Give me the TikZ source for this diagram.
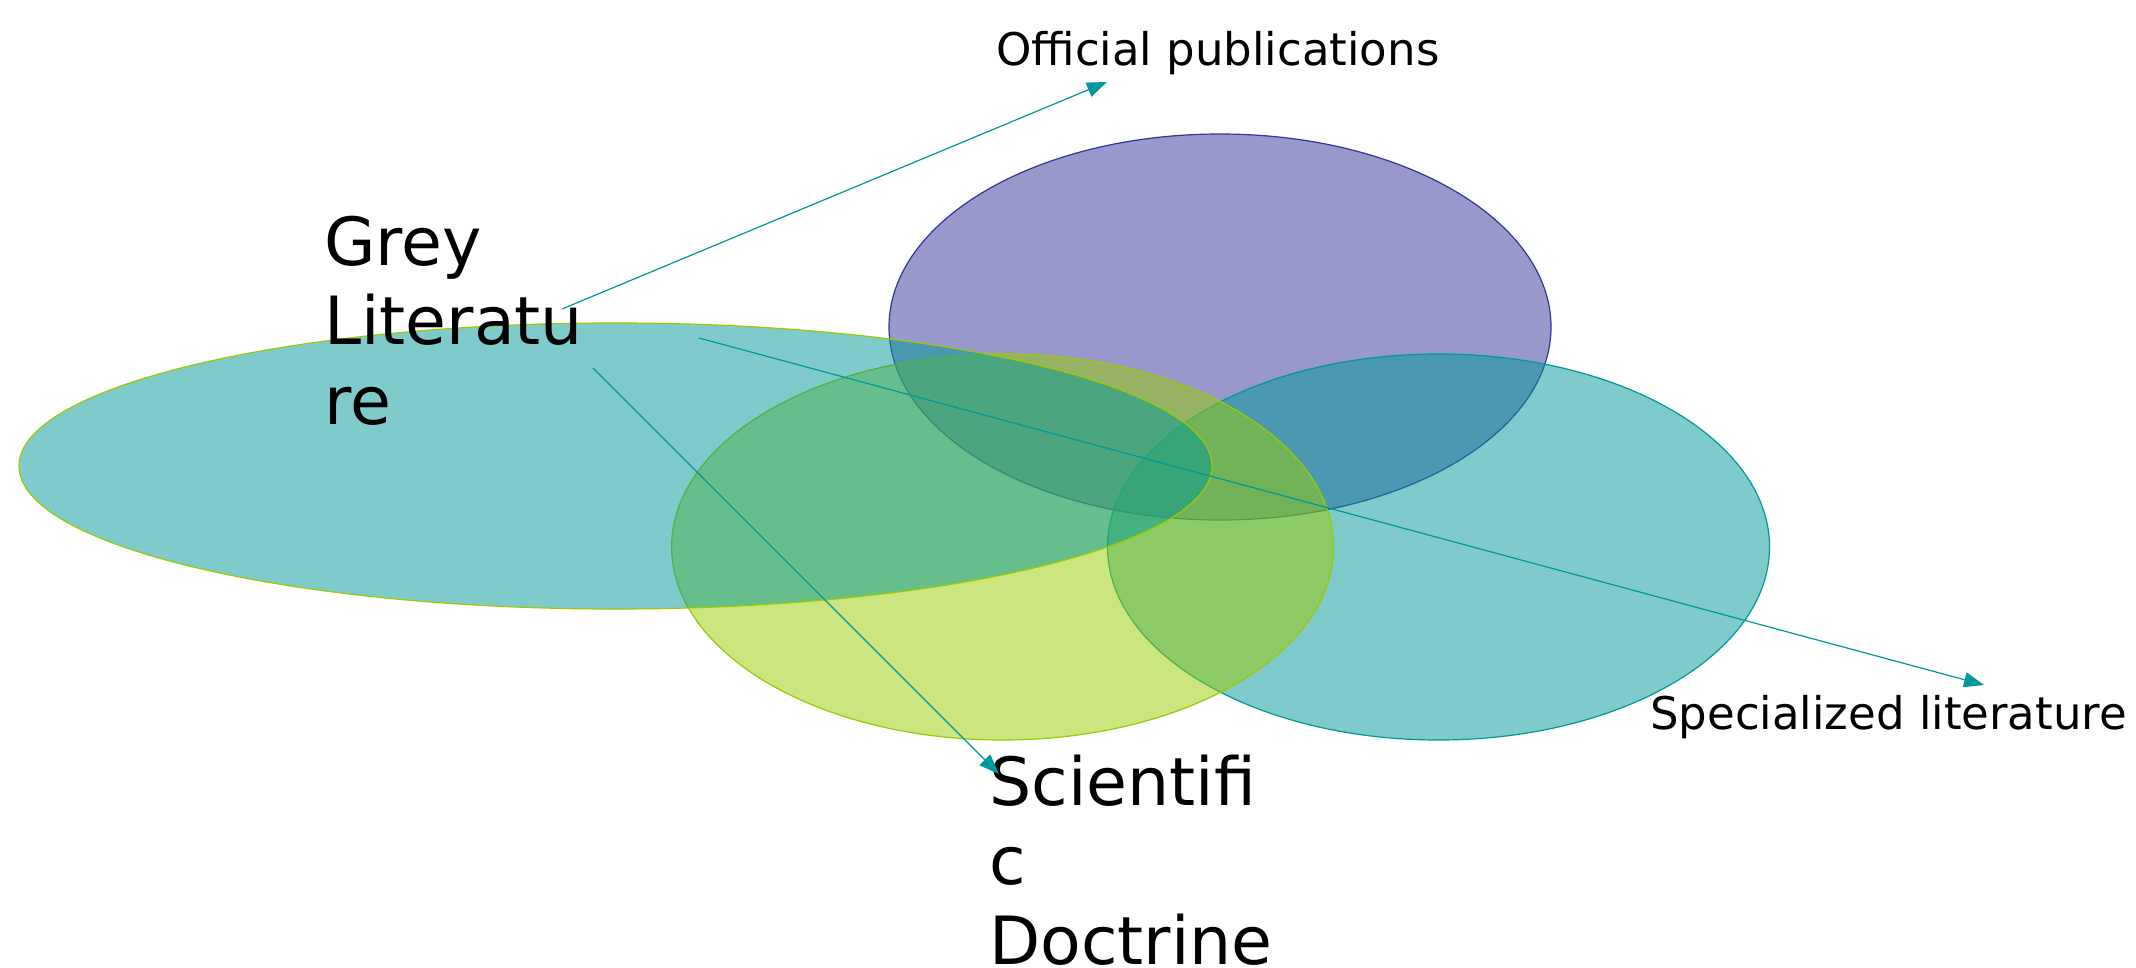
\documentclass[tikz,border=0pt]{standalone}
\usepackage{fontspec}
\setmainfont{DejaVu Sans}
\usetikzlibrary{arrows.meta}
\definecolor{tealc}{RGB}{0,153,153}
\definecolor{greenc}{RGB}{153,204,0}
\definecolor{purplec}{RGB}{51,51,153}
\begin{document}
\begin{tikzpicture}[x=1pt,y=-1pt,
  blob/.style={line width=1.2pt, fill opacity=0.5},
  conn/.style={draw=tealc, line width=1.2pt, -{Triangle[length=20pt,width=15pt]}, fill=tealc},
  small/.style={inner sep=0pt, font=\fontsize{45}{54}\selectfont},
  big/.style={inner sep=0pt, align=left, font=\fontsize{66.5}{79.5}\selectfont}]
\useasboundingbox (0,0) rectangle (2136,968);
\fill[white] (0,0) rectangle (2136,968);
% circles
\draw[blob, draw=purplec, fill=purplec] (1220,327) ellipse [x radius=331, y radius=193];
\draw[blob, draw=tealc, fill=tealc] (1438.5,547) ellipse [x radius=331, y radius=193];
\draw[blob, draw=greenc, fill=greenc] (1002.6,547) ellipse [x radius=331, y radius=193];
\draw[blob, draw=greenc, fill=tealc] (615.5,466) ellipse [x radius=596.5, y radius=143];
% labels
\node[small, anchor=base west] (op) at (996,66) {Official publications};
\node[small, anchor=base west] (sl) at (1650,729) {Specialized literature};
\node[big, anchor=base west] (gl) at (324,424) {Grey\\Literatu\\re};
\node[big, anchor=base west] (sd) at (989,964) {Scientifi\\c\\Doctrine};
% connector ends
\coordinate (g1) at (562,309);
\coordinate (g2) at (593,368);
\coordinate (g3) at (699,338);
\coordinate (opEnd) at (1107,82);
\coordinate (sdEnd) at (999,774);
\coordinate (slEnd) at (1984,685);
\draw[conn] (g1) -- (opEnd);
\draw[conn] (g2) -- (sdEnd);
\draw[conn] (g3) -- (slEnd);
\end{tikzpicture}
\end{document}
